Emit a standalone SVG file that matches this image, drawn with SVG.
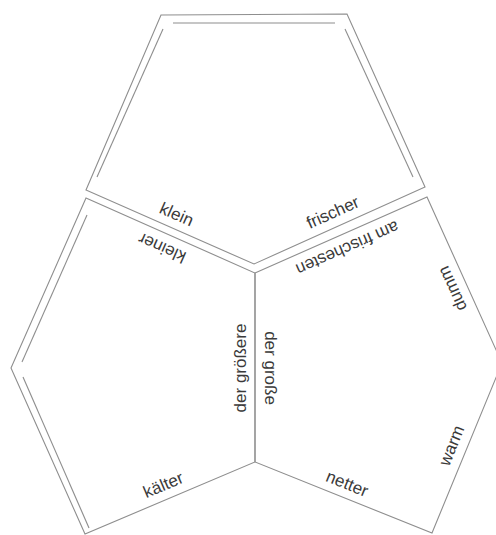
<svg xmlns="http://www.w3.org/2000/svg" width="496" height="535" viewBox="0 0 496 535">
<style>
.edge{fill:none;stroke:#8e8e8e;stroke-width:1.1;stroke-linejoin:miter}
.lbl{font-family:"Liberation Sans",Arial,sans-serif;font-size:17px;fill:#3a3a3a;text-anchor:middle}
</style>
<rect width="496" height="535" fill="#ffffff"/>
<g id="top">
<polygon class="edge" points="161,15 347,14 425,187 254,264 86,190"/>
<line class="edge" x1="173" y1="23" x2="335" y2="23"/>
<line class="edge" x1="163" y1="29" x2="97" y2="177"/>
<line class="edge" x1="345" y1="29" x2="413" y2="177"/>
<text class="lbl" transform="translate(174.3,219.5) rotate(24)">klein</text>
<text class="lbl" transform="translate(335.1,217.6) rotate(-24.2)">frischer</text>
</g>
<g id="left">
<polygon class="edge" points="86,198 255,273 255,462 85,534 11,368"/>
<line class="edge" x1="87" y1="215" x2="22" y2="362"/>
<line class="edge" x1="23" y1="377" x2="89" y2="528"/>
<text class="lbl" transform="translate(164.4,242.7) rotate(204)">kleiner</text>
<text class="lbl" transform="translate(246,368) rotate(-90)">der größere</text>
<text class="lbl" transform="translate(165.5,490.1) rotate(-22.9)">kälter</text>
</g>
<g id="right">
<polygon class="edge" points="255,273 427,197 502,363 432,533 255,462"/>
<text class="lbl" transform="translate(345.2,242.9) rotate(156.2)">am frischesten</text>
<text class="lbl" transform="translate(264.5,368) rotate(90)">der große</text>
<text class="lbl" transform="translate(457.5,286.3) rotate(-114.3)">dumm</text>
<text class="lbl" transform="translate(456.8,447.7) rotate(-67.6)">warm</text>
<text class="lbl" transform="translate(345,488.9) rotate(22.1)">netter</text>
</g>
<g id="connectors"></g>
</svg>
